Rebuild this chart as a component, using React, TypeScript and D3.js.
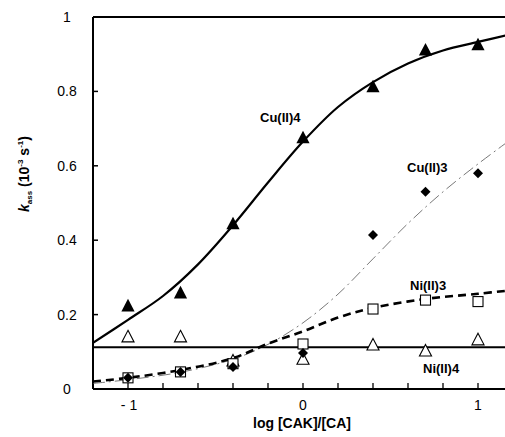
import React from 'react';
import * as d3 from 'd3';

// measured log [CAK]/[CA] positions
const xVals = [-1, -0.7, -0.4, 0, 0.4, 0.7, 1];

// k_ass values (10^-3 s^-1)
const cu4 = [0.223, 0.258, 0.444, 0.675, 0.812, 0.911, 0.925];
const cu3 = [0.03, 0.046, 0.059, 0.097, 0.414, 0.53, 0.58];
const ni3 = [0.03, 0.046, 0.068, 0.121, 0.215, 0.239, 0.235];
const ni4 = [0.14, 0.14, 0.075, 0.08, 0.118, 0.102, 0.132];

// fitted curves, sampled from the figure
const cu4FitX = [-1.2, -1.0, -0.8, -0.6, -0.4, -0.2, 0, 0.2, 0.4, 0.6, 0.8, 1.0, 1.2];
const cu4FitY = [0.124, 0.186, 0.25, 0.335, 0.44, 0.555, 0.665, 0.758, 0.825, 0.875, 0.91, 0.933, 0.955];
const cu3FitX = [-1.2, -1.0, -0.7, -0.4, -0.2, 0, 0.2, 0.4, 0.6, 0.8, 1.0, 1.2];
const cu3FitY = [0.015, 0.025, 0.045, 0.08, 0.12, 0.178, 0.255, 0.35, 0.445, 0.53, 0.605, 0.675];
const ni3FitX = [-1.2, -1.0, -0.7, -0.4, -0.2, 0, 0.2, 0.4, 0.7, 1.0, 1.2];
const ni3FitY = [0.02, 0.03, 0.051, 0.083, 0.122, 0.155, 0.192, 0.218, 0.242, 0.256, 0.266];
const ni4Level = 0.112;

const yTicks = [0, 0.2, 0.4, 0.6, 0.8, 1];
const yTickLabels = ['0', '0.2', '0.4', '0.6', '0.8', '1'];
const xTicks = [-1, 0, 1];
const xTickLabels = ['- 1', '0', '1'];
const xMinor = d3.range(-1.2, 1.21, 0.2);

const W = 505, H = 437;
const left = 93, top = 17, bottom = 389;

const App = () => {
  const x = d3.scaleLinear().domain([-1.2, 0]).range([left, 303]);
  const y = d3.scaleLinear().domain([0, 1]).range([bottom, top]);
  const right = W + 10;

  const line = d3.line<[number, number]>()
    .x(d => x(d[0]))
    .y(d => y(d[1]))
    .curve(d3.curveCatmullRom.alpha(0.5));
  const zip = (a: number[], b: number[]) => a.map((v, i) => [v, b[i]] as [number, number]);

  const font = 'Liberation Sans, Arial, Helvetica, sans-serif';
  const tri = (cx: number, cy: number, s: number) =>
    `M${cx},${cy - s * 0.6}L${cx + s * 0.55},${cy + s * 0.45}L${cx - s * 0.55},${cy + s * 0.45}Z`;
  const dia = (cx: number, cy: number, s: number) =>
    `M${cx},${cy - s}L${cx + s},${cy}L${cx},${cy + s}L${cx - s},${cy}Z`;

  return (
    <svg width={W} height={H} style={{ position: 'absolute', left: 0, top: 0, background: '#fff' }}
      fontFamily={font}>
      <defs>
        <clipPath id="plot">
          <rect x={left} y={top} width={right - left} height={bottom - top} />
        </clipPath>
      </defs>

      {/* frame */}
      <line x1={left} x2={right} y1={top} y2={top} stroke="#000" strokeWidth={2} />
      <line x1={left} x2={right} y1={bottom} y2={bottom} stroke="#000" strokeWidth={2} />
      <line x1={left} x2={left} y1={top} y2={bottom} stroke="#000" strokeWidth={2} />

      {/* ticks */}
      {yTicks.map((t, i) => (
        <g key={'y' + i}>
          <line x1={left} x2={left + 5} y1={y(t)} y2={y(t)} stroke="#000" strokeWidth={1.5} />
          <text x={67} y={y(t) + 5} textAnchor="middle" fontSize={14}>{yTickLabels[i]}</text>
        </g>
      ))}
      {xMinor.map((t, i) => (
        <line key={'xm' + i} x1={x(t)} x2={x(t)} y1={bottom} y2={bottom - 6} stroke="#000" strokeWidth={1.3} />
      ))}
      {xTicks.map((t, i) => (
        <text key={'xl' + i} x={x(t) + (t < 0 ? 1 : 0)} y={410} textAnchor="middle" fontSize={14}>
          {xTickLabels[i]}
        </text>
      ))}

      {/* axis titles */}
      <text x={302} y={428} textAnchor="middle" fontSize={14} fontWeight="bold">log [CAK]/[CA]</text>
      <text transform="translate(29,174) rotate(-90)" textAnchor="middle" fontSize={14} fontWeight="bold">
        <tspan fontStyle="italic">k</tspan>
        <tspan fontSize={8} dy={3}>ass</tspan>
        <tspan dy={-3}> (10</tspan>
        <tspan fontSize={8} dy={-6}>-3</tspan>
        <tspan dy={6}> s</tspan>
        <tspan fontSize={8} dy={-6}>-1</tspan>
        <tspan dy={6}>)</tspan>
      </text>

      <g clipPath="url(#plot)">
        {/* fits */}
        <line x1={left} x2={right} y1={y(ni4Level)} y2={y(ni4Level)} stroke="#000" strokeWidth={2} />
        <path d={line(zip(cu3FitX, cu3FitY)) || ''} fill="none" stroke="#555" strokeWidth={0.8}
          strokeDasharray="12,4,2,4" />
        <path d={line(zip(ni3FitX, ni3FitY)) || ''} fill="none" stroke="#000" strokeWidth={2.6}
          strokeDasharray="8,5" />
        <path d={line(zip(cu4FitX, cu4FitY)) || ''} fill="none" stroke="#000" strokeWidth={2.2} />

        {/* markers */}
        {xVals.map((v, i) => (
          <path key={'n4' + i} d={tri(x(v), y(ni4[i]), 11)} fill="#fff" stroke="#000" strokeWidth={1.1} />
        ))}
        {xVals.map((v, i) => (
          <rect key={'n3' + i} x={x(v) - 5} y={y(ni3[i]) - 5} width={10} height={10}
            fill="#fff" stroke="#000" strokeWidth={1.1} />
        ))}
        {xVals.map((v, i) => (
          <path key={'c3' + i} d={dia(x(v), y(cu3[i]), 5)} fill="#000" />
        ))}
        {xVals.map((v, i) => (
          <path key={'c4' + i} d={tri(x(v), y(cu4[i]), 12)} fill="#000" />
        ))}
      </g>

      {/* series labels */}
      <g fontSize={13} fontWeight="bold">
        <text x={260} y={122}>Cu(II)4</text>
        <text x={407} y={172}>Cu(II)3</text>
        <text x={410} y={290}>Ni(II)3</text>
        <text x={423} y={373}>Ni(II)4</text>
      </g>
    </svg>
  );
};

export default App;
